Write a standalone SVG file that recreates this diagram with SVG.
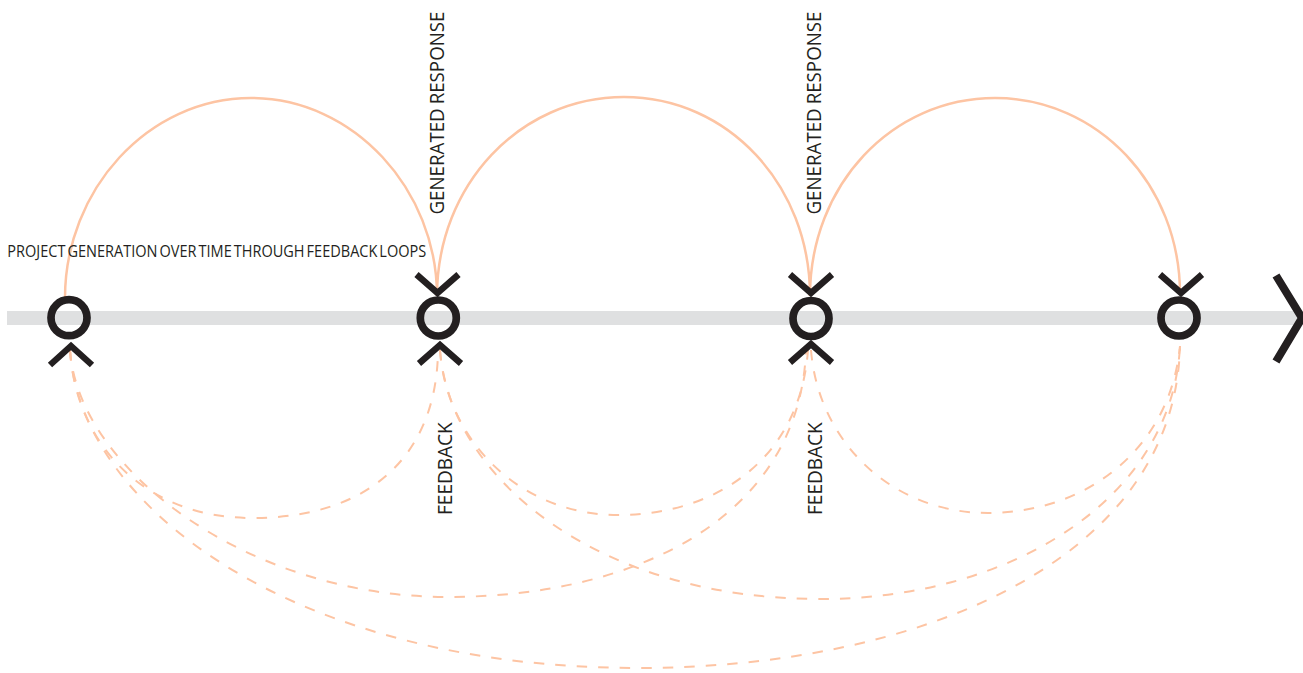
<svg xmlns="http://www.w3.org/2000/svg" width="1303" height="673" viewBox="0 0 1303 673">
<style>
.n{fill:none;stroke:#231f20;stroke-width:6.4}
.c{fill:none;stroke:#231f20;stroke-width:7.7}
.s{fill:none;stroke:#fdc4a3;stroke-width:2.5}
.d{fill:none;stroke:#fdc4a3;stroke-width:2;stroke-dasharray:10.5 11}
text{font-family:"Open Sans","Liberation Sans",sans-serif;fill:#231f20;font-size:20.5px;word-spacing:-1px}
#t1{font-size:16.3px;word-spacing:-2px}
</style>
<rect width="1303" height="673" fill="#fff"/>
<rect id="timeline" x="7" y="311" width="1296" height="14" fill="#dfe0e1"/>
<g id="connectors">
<path class="s" d="M65 298C65 190 148 98 251 98C354 98 437 190 437 296"/>
<path class="s" d="M437 296C437 185 520 97 624 97C728 97 810 185 810 296"/>
<path class="s" d="M810 296C810 185 892 98 995 98C1098 98 1180 185 1180 294"/>
<path class="d" d="M70 350C76 445 145 518 252 518C370 518 437 455 438 350"/>
<path class="d" d="M440 350C446 440 520 515 618 515C715 515 800 460 808 350"/>
<path class="d" d="M811 350C818 440 890 513 988 513C1085 513 1170 450 1180 346"/>
<path class="d" d="M70 350C78 470 250 597 447 597C640 597 800 515 806 350"/>
<path class="d" d="M440 350C450 480 600 599 820 599C1010 599 1172 500 1180 346"/>
<path class="d" d="M70 350C80 510 300 668 637 668C920 668 1175 560 1180 346"/>
</g>
<g id="node-1"><circle class="c" cx="69" cy="317.7" r="18"/><path class="n" d="M50 365L71 346L92 365"/></g>
<g id="node-2"><circle class="c" cx="438.3" cy="318" r="18"/><path class="n" d="M416.5 274.5L437.5 293L458.5 274.5M419 363.5L440 345L461 363.5"/></g>
<g id="node-3"><circle class="c" cx="811" cy="318.5" r="18"/><path class="n" d="M790 274.5L811 293L832 274.5M790 362.5L811 344L832 362.5"/></g>
<g id="node-4"><circle class="c" cx="1179" cy="318" r="18"/><path class="n" d="M1160 274.5L1181 293L1202 274.5"/></g>
<path id="arrow" d="M1276 275.5L1302 318L1276 361.5" fill="none" stroke="#231f20" stroke-width="8"/>
<text id="t1" transform="translate(7.3 257.3) scale(.92 1)" textLength="455.4" lengthAdjust="spacingAndGlyphs">PROJECT GENERATION OVER TIME THROUGH FEEDBACK LOOPS</text>
<text id="t2" transform="translate(444.3 214.5) rotate(-90) scale(.86 1)" textLength="236" lengthAdjust="spacingAndGlyphs">GENERATED RESPONSE</text>
<text id="t3" transform="translate(821 214.5) rotate(-90) scale(.86 1)" textLength="236" lengthAdjust="spacingAndGlyphs">GENERATED RESPONSE</text>
<text id="t4" transform="translate(451.7 515) rotate(-90) scale(.86 1)" textLength="107.8" lengthAdjust="spacingAndGlyphs">FEEDBACK</text>
<text id="t5" transform="translate(821.7 515) rotate(-90) scale(.86 1)" textLength="107.8" lengthAdjust="spacingAndGlyphs">FEEDBACK</text>
</svg>
